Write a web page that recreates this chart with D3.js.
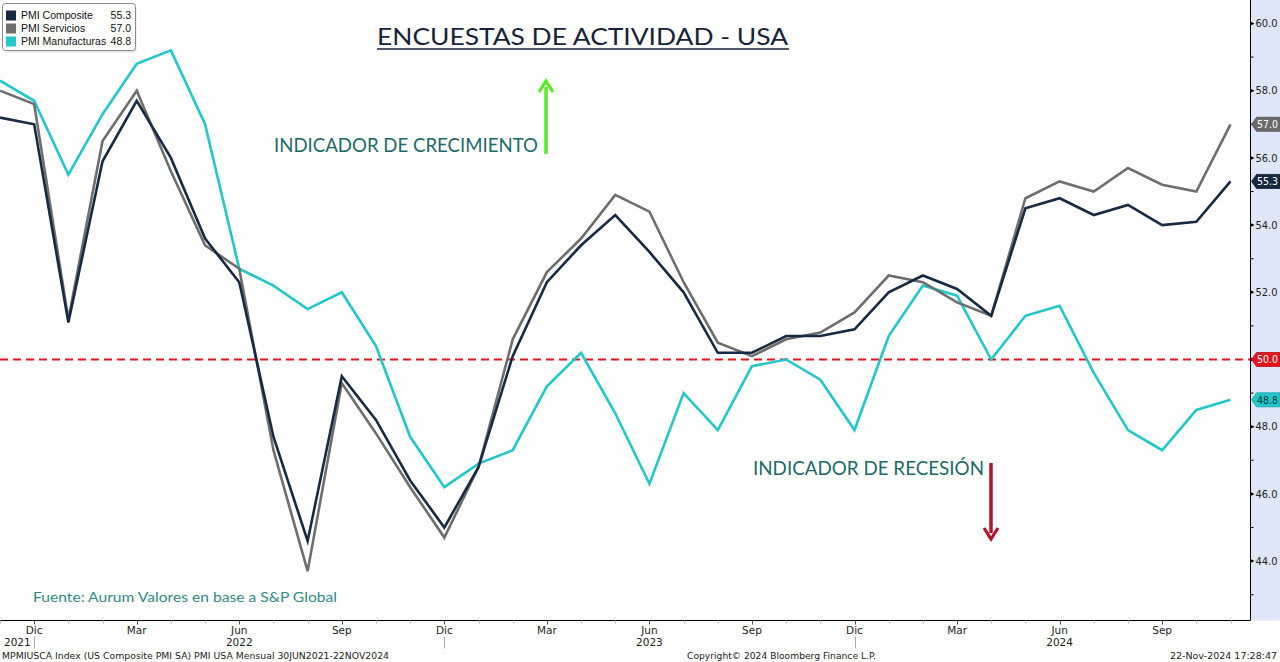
<!DOCTYPE html>
<html><head><meta charset="utf-8">
<script src="https://cdn.jsdelivr.net/npm/d3@7"></script>
<style>
html,body{margin:0;padding:0;background:#fff;}
svg{display:block;}
</style></head>
<body>
<svg id="c" width="1280" height="662"></svg>
<script>
// ---- DATA ----
const months = ["Nov","Dic","Ene","Feb","Mar","Abr","May","Jun","Jul","Ago","Sep","Oct",
  "Nov","Dic","Ene","Feb","Mar","Abr","May","Jun","Jul","Ago","Sep","Oct",
  "Nov","Dic","Ene","Feb","Mar","Abr","May","Jun","Jul","Ago","Sep","Oct","Nov"];
const years = [2021,2021,2022,2022,2022,2022,2022,2022,2022,2022,2022,2022,
  2022,2022,2023,2023,2023,2023,2023,2023,2023,2023,2023,2023,
  2023,2023,2024,2024,2024,2024,2024,2024,2024,2024,2024,2024,2024];
const composite = [57.2,57.0,51.1,55.9,57.7,56.0,53.6,52.3,47.7,44.6,49.5,48.2,
  46.4,45.0,46.8,50.1,52.3,53.4,54.3,53.2,52.0,50.2,50.2,50.7,
  50.7,50.9,52.0,52.5,52.1,51.3,54.5,54.8,54.3,54.6,54.0,54.1,55.3];
const servicios = [58.0,57.6,51.2,56.5,58.0,55.6,53.4,52.7,47.3,43.7,49.3,47.8,
  46.2,44.7,46.8,50.6,52.6,53.6,54.9,54.4,52.3,50.5,50.1,50.6,
  50.8,51.4,52.5,52.3,51.7,51.3,54.8,55.3,55.0,55.7,55.2,55.0,57.0];
const manufacturas = [58.3,57.7,55.5,57.3,58.8,59.2,57.0,52.7,52.2,51.5,52.0,50.4,
  47.7,46.2,46.9,47.3,49.2,50.2,48.4,46.3,49.0,47.9,49.8,50.0,
  49.4,47.9,50.7,52.2,51.9,50.0,51.3,51.6,49.6,47.9,47.3,48.5,48.8];
const seriesNames = ["PMI Composite","PMI Servicios","PMI Manufacturas"];
const seriesColors = ["#172a45","#6e6e6e","#22c7cb"];
const yTicks = [44,46,48,50,52,54,56,58,60];
const yMinor = [43,45,47,49,51,53,55,57,59];
const labeledMonths = ["Dic","Mar","Jun","Sep"];
const threshold = 50.0;
const title = "ENCUESTAS DE ACTIVIDAD - USA";
const growthText = "INDICADOR DE CRECIMIENTO";
const recessionText = "INDICADOR DE RECESIÓN";
const sourceText = "Fuente: Aurum Valores en base a S&P Global";
const footLeft = "MPMIUSCA Index (US Composite PMI SA) PMI USA  Mensual 30JUN2021-22NOV2024";
const footMid = "Copyright\u00A9 2024 Bloomberg Finance L.P.";
const footRight = "22-Nov-2024 17:28:47";

// ---- LAYOUT ----
const svg = d3.select("#c");
const W = 1280, H = 662;
const plotR = 1250.5, plotB = 620.5;
const small = "Tahoma, 'DejaVu Sans', sans-serif";
const narrow = "'Liberation Sans', Arial, sans-serif";
const geo = "Lato, 'Open Sans', sans-serif";

const x = d3.scaleLinear().domain([0, months.length - 1]).range([0, 1230.5]);
const y = d3.scaleLinear().domain([50, 60]).range([359.5, 23.5]);

// right axis background
svg.append("rect").attr("x", plotR).attr("y", 0).attr("width", W - plotR).attr("height", plotB)
  .attr("fill", "#dde7f7");

// clip for plot
svg.append("clipPath").attr("id", "pc").append("rect")
  .attr("x", 0).attr("y", 0).attr("width", plotR).attr("height", plotB);

// frame lines
svg.append("line").attr("x1", plotR).attr("x2", plotR).attr("y1", 0).attr("y2", plotB)
  .attr("stroke", "#000").attr("stroke-width", 1);
svg.append("line").attr("x1", 0).attr("x2", plotR).attr("y1", plotB).attr("y2", plotB)
  .attr("stroke", "#000").attr("stroke-width", 1);

// right axis
const yAxisG = svg.append("g");
yTicks.forEach(v => {
  const yy = y(v);
  yAxisG.append("path").attr("d", `M${plotR},${yy-2}L${plotR+4},${yy}L${plotR},${yy+2}Z`).attr("fill", "#000");
  yAxisG.append("text").attr("x", plotR + 5).attr("y", yy).attr("dy", "0.35em")
    .attr("font-family", small).attr("font-size", 10.5).attr("fill", "#222")
    .attr("textLength", 22).attr("lengthAdjust", "spacingAndGlyphs")
    .text(d3.format(".1f")(v));
});
yMinor.forEach(v => {
  yAxisG.append("line").attr("x1", plotR).attr("x2", plotR + 3).attr("y1", y(v)).attr("y2", y(v))
    .attr("stroke", "#000");
});

// x axis ticks
const xg = svg.append("g");
months.forEach((m, i) => {
  const xx = Math.round(x(i)) + 0.5;
  const major = labeledMonths.includes(m);
  xg.append("line").attr("x1", xx).attr("x2", xx).attr("y1", plotB).attr("y2", plotB + (major ? 4 : 3))
    .attr("stroke", major ? "#555" : "#bbb");
  if (major) {
    xg.append("text").attr("x", x(i)).attr("y", plotB + 13).attr("text-anchor", "middle")
      .attr("font-family", small).attr("font-size", 10.5).attr("fill", "#222").text(m);
  }
  if (m === "Dic") {
    xg.append("line").attr("x1", xx).attr("x2", xx).attr("y1", plotB + 16).attr("y2", plotB + 28)
      .attr("stroke", "#aaa");
  }
  if (m === "Jun") {
    xg.append("text").attr("x", x(i)).attr("y", plotB + 25).attr("text-anchor", "middle")
      .attr("font-family", small).attr("font-size", 10.5).attr("fill", "#222").text(years[i]);
  }
});
// first year label at left edge
xg.append("text").attr("x", 4).attr("y", plotB + 25)
  .attr("font-family", small).attr("font-size", 10.5).attr("fill", "#222").text(years[0]);

// threshold dashed line
svg.append("line").attr("x1", 0).attr("x2", plotR).attr("y1", y(threshold)).attr("y2", y(threshold))
  .attr("stroke", "#e3141c").attr("stroke-width", 2).attr("stroke-dasharray", "8,5");

// series lines
const seriesData = [composite, servicios, manufacturas];
const line = d3.line().x((d, i) => x(i)).y(d => y(d));
const lg = svg.append("g").attr("clip-path", "url(#pc)");
[2, 1, 0].forEach(k => {
  lg.append("path").datum(seriesData[k]).attr("d", line)
    .attr("fill", "none").attr("stroke", seriesColors[k]).attr("stroke-width", 2.6)
    .attr("stroke-linejoin", "miter");
});

// right value tags
function tag(v, fill, textColor) {
  const yy = y(v), h = 14;
  const g = svg.append("g");
  g.append("path")
    .attr("d", `M${plotR+1},${yy}L${plotR+6},${yy-h/2}L${W},${yy-h/2}L${W},${yy+h/2}L${plotR+6},${yy+h/2}Z`)
    .attr("fill", fill).attr("stroke", d3.color(fill).darker(0.6)).attr("stroke-width", 0.8);
  g.append("text").attr("x", plotR + 6.5).attr("y", yy).attr("dy", "0.36em")
    .attr("font-family", small).attr("font-size", 10.5).attr("fill", textColor)
    .attr("textLength", 21).attr("lengthAdjust", "spacingAndGlyphs")
    .text(d3.format(".1f")(v));
}
tag(servicios[servicios.length - 1], "#6a6a6a", "#fff");
tag(composite[composite.length - 1], "#16293f", "#fff");
tag(threshold, "#e3141c", "#fff");
tag(manufacturas[manufacturas.length - 1], "#22c7cb", "#0a3a3a");

// legend
const lgd = svg.append("g");
lgd.append("rect").attr("x", 3.5).attr("y", 4.5).attr("width", 133).attr("height", 48).attr("rx", 3)
  .attr("fill", "#ccc").attr("opacity", 0.5);
lgd.append("rect").attr("x", 2.5).attr("y", 3.5).attr("width", 133).attr("height", 47).attr("rx", 3)
  .attr("fill", "#fff").attr("stroke", "#8a8a8a");
seriesNames.forEach((n, k) => {
  const yy = 15.5 + k * 13;
  lgd.append("rect").attr("x", 6).attr("y", yy - 5).attr("width", 10).attr("height", 10).attr("fill", seriesColors[k]);
  lgd.append("text").attr("x", 21).attr("y", yy).attr("dy", "0.35em")
    .attr("font-family", narrow).attr("font-size", 10.5).attr("fill", "#111").text(n);
  const last = seriesData[k][seriesData[k].length - 1];
  lgd.append("text").attr("x", 131).attr("y", yy).attr("dy", "0.35em").attr("text-anchor", "end")
    .attr("font-family", narrow).attr("font-size", 10.5).attr("fill", "#111").text(d3.format(".1f")(last));
});

// title
svg.append("text").attr("x", 377).attr("y", 45).attr("textLength", 411).attr("lengthAdjust", "spacingAndGlyphs")
  .attr("font-family", geo).attr("font-size", 24).attr("fill", "#17233a").text(title);
svg.append("line").attr("x1", 377).attr("x2", 789).attr("y1", 49).attr("y2", 49)
  .attr("stroke", "#17233a").attr("stroke-width", 1.5);

// annotations
svg.append("text").attr("x", 274).attr("y", 152).attr("textLength", 264).attr("lengthAdjust", "spacingAndGlyphs")
  .attr("font-family", geo).attr("font-size", 19).attr("fill", "#1c6a68").text(growthText);
svg.append("text").attr("x", 753).attr("y", 475).attr("textLength", 231).attr("lengthAdjust", "spacingAndGlyphs")
  .attr("font-family", geo).attr("font-size", 19).attr("fill", "#1c6a68").text(recessionText);

// arrows
function arrow(xx, y0, y1, color) {
  const dir = y1 < y0 ? -1 : 1;
  svg.append("line").attr("x1", xx).attr("x2", xx).attr("y1", y0).attr("y2", y1 - dir * 6)
    .attr("stroke", color).attr("stroke-width", 3.5);
  svg.append("path").attr("d", `M${xx-7},${y1 - dir*11}L${xx},${y1}L${xx+7},${y1 - dir*11}`)
    .attr("fill", "none").attr("stroke", color).attr("stroke-width", 3.2).attr("stroke-linejoin", "miter");
}
arrow(546, 154, 81, "#55ee22");
arrow(991, 463, 539, "#b5132b");

// source
svg.append("text").attr("x", 33).attr("y", 602).attr("textLength", 304).attr("lengthAdjust", "spacingAndGlyphs")
  .attr("font-family", geo).attr("font-size", 14).attr("fill", "#2f8a86").text(sourceText);

// footer
svg.append("text").attr("x", 2).attr("y", 659).attr("font-family", small).attr("font-size", 9.5)
  .attr("fill", "#222").attr("textLength", 387).attr("lengthAdjust", "spacingAndGlyphs").text(footLeft);
svg.append("text").attr("x", 687).attr("y", 659).attr("font-family", small).attr("font-size", 9.5)
  .attr("fill", "#222").attr("textLength", 189).attr("lengthAdjust", "spacingAndGlyphs").text(footMid);
svg.append("text").attr("x", 1277).attr("y", 659).attr("text-anchor", "end").attr("font-family", small).attr("font-size", 9.5)
  .attr("fill", "#222").text(footRight);
</script>
</body></html>
